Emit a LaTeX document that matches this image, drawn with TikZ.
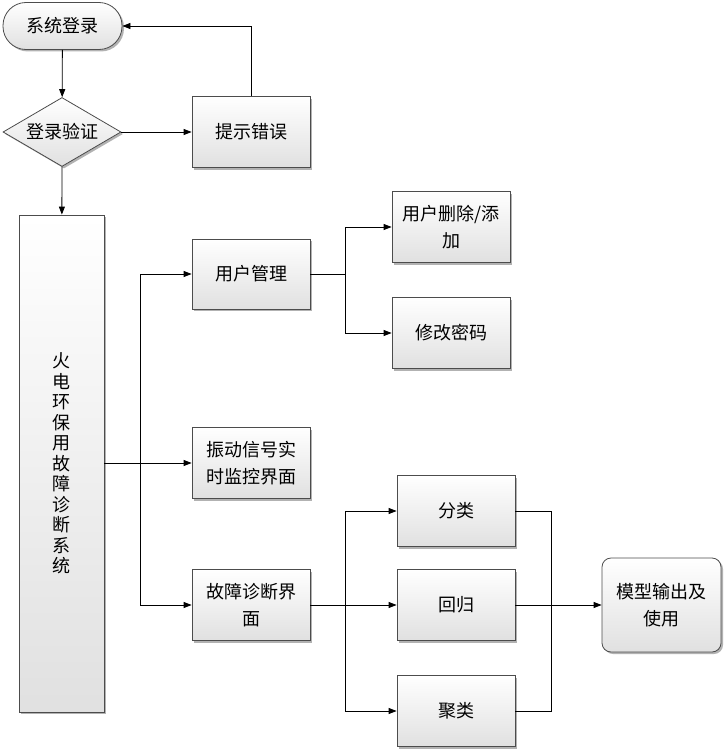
\documentclass[tikz,border=0pt]{standalone}
\usepackage{fontspec}
\newfontfamily\cjk{Noto Sans CJK SC}
\usetikzlibrary{shapes.geometric,arrows.meta,shadows}
\begin{document}
\begin{tikzpicture}[x=1pt,y=-1pt,
  font=\cjk\fontsize{18}{27}\selectfont,
  base/.style={draw=black!70, line width=0.8pt, top color=white, bottom color=black!12,
    drop shadow={shadow xshift=2pt, shadow yshift=-2pt, fill=black!30, opacity=1},
    align=center, inner sep=0pt},
  box/.style={base, minimum width=118pt, minimum height=71pt},
  arr/.style={-{Triangle[length=8pt,width=6pt]}, line width=0.8pt},
  ln/.style={line width=0.8pt}]
\useasboundingbox (0,0) rectangle (727,752);
\node[base, rounded corners=23pt, minimum width=119pt, minimum height=47pt] (login) at (62.5,26) {系统登录};
\node[base, diamond, aspect=1.7, minimum width=118pt, minimum height=69pt] (verify) at (62,132) {登录验证};
\node[box] (err) at (251,132) {提示错误};
\node[base, minimum width=85pt, minimum height=497pt, font=\cjk\fontsize{18}{20.5}\selectfont] (main) at (61.5,463.5) {火\\电\\环\\保\\用\\故\\障\\诊\\断\\系\\统};
\node[box, minimum height=70pt] (um) at (251,274) {用户管理};
\node[box] (vib) at (251,463) {振动信号实\\时监控界面};
\node[box] (fd) at (251,605) {故障诊断界\\面};
\node[box] (ud) at (451,227) {用户删除/添\\加};
\node[box] (pw) at (451,333) {修改密码};
\node[box] (cls) at (456,511) {分类};
\node[box] (reg) at (456,605) {回归};
\node[box] (clu) at (456,711) {聚类};
\node[base, rounded corners=9pt, minimum width=119pt, minimum height=94pt] (out) at (661.5,605) {模型输出及\\使用};
\coordinate (busA) at (140,463);
\coordinate (busB) at (345,274);
\coordinate (busC) at (345,605);
\coordinate (busD) at (551,605);
% connectors
\draw[arr] (login) -- (verify);
\draw[arr] (verify) -- (err);
\draw[arr] (verify) -- (main);
\draw[arr] (err.north) |- (login.east);
\draw[arr] (main.east |- vib.west) -- (vib.west);
\draw[arr] (busA) |- (um.west);
\draw[arr] (busA) |- (fd.west);
\draw[ln] (um.east) -- (busB);
\draw[arr] (busB) |- (ud.west);
\draw[arr] (busB) |- (pw.west);
\draw[ln] (fd.east) -- (busC);
\draw[arr] (busC) |- (cls.west);
\draw[arr] (busC) -- (reg.west);
\draw[arr] (busC) |- (clu.west);
\draw[ln] (cls.east) -| (busD);
\draw[ln] (clu.east) -| (busD);
\draw[ln] (reg.east) -- (busD);
\draw[arr] (busD) -- (out.west);
\end{tikzpicture}
\end{document}
